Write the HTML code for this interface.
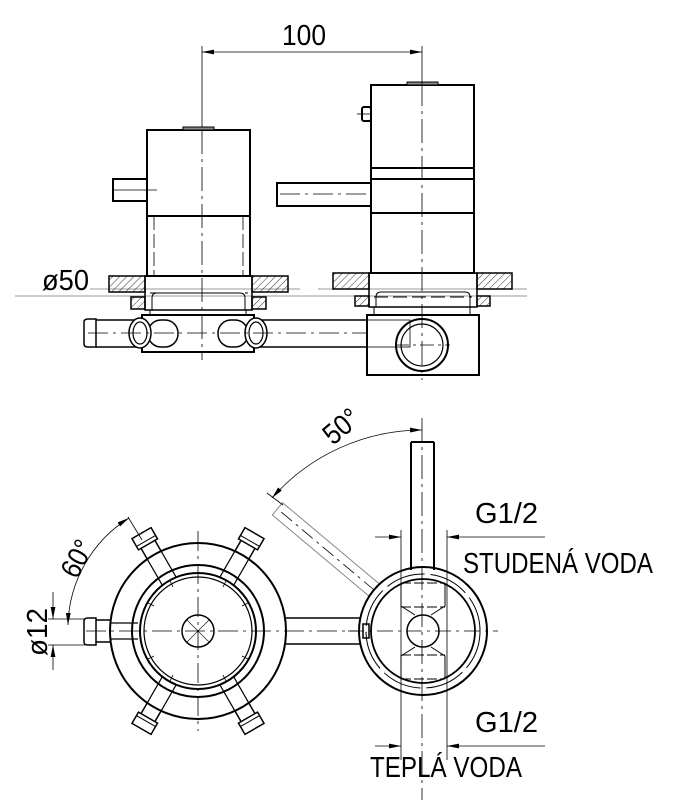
<!DOCTYPE html>
<html><head><meta charset="utf-8"><style>
html,body{margin:0;padding:0;background:#fff}
svg{display:block}
text{font-family:"Liberation Sans",sans-serif;fill:#000}
</style></head><body>
<svg width="675" height="800" viewBox="0 0 675 800" xmlns="http://www.w3.org/2000/svg">
<defs>
<pattern id="h" width="5" height="5" patternUnits="userSpaceOnUse" patternTransform="rotate(45)"><line x1="0" y1="0" x2="0" y2="5" stroke="#000" stroke-width="0.8"/></pattern>
<marker id="a" viewBox="0 0 10 4" refX="10" refY="2" markerWidth="12" markerHeight="5" orient="auto-start-reverse" markerUnits="userSpaceOnUse"><path d="M0,0L10,2L0,4z" fill="#000"/></marker>
</defs>
<g fill="none" stroke="#000">
<!-- dimension 100 -->
<line x1="202" y1="46" x2="202" y2="130" stroke-width="0.8"/>
<line x1="422" y1="46" x2="422" y2="82" stroke-width="0.8"/>
<line x1="202" y1="52" x2="422" y2="52" stroke-width="0.8" marker-start="url(#a)" marker-end="url(#a)"/>
<!-- grey wall lines -->
<line x1="15" y1="296" x2="527" y2="296" stroke="#999" stroke-width="1"/>
<line x1="90" y1="289" x2="300" y2="289" stroke="#999" stroke-width="1"/>
<line x1="318" y1="289" x2="527" y2="289" stroke="#999" stroke-width="1"/>
<!-- left body -->
<g stroke-width="2">
<rect x="147" y="130" width="103" height="146"/>
<line x1="147" y1="216" x2="250" y2="216"/>
<rect x="113" y="179" width="34" height="22"/>
<rect x="183" y="127" width="31" height="3" fill="#888" stroke-width="1"/>
</g>
<line x1="113" y1="190" x2="157" y2="190" stroke-width="0.8"/>
<line x1="154" y1="216" x2="154" y2="276" stroke-width="0.8" stroke-dasharray="14,4"/>
<line x1="243" y1="216" x2="243" y2="276" stroke-width="0.8" stroke-dasharray="14,4"/>
<!-- left flange -->
<rect x="109" y="276" width="36" height="16" fill="url(#h)" stroke-width="1.5"/>
<rect x="252" y="276" width="36" height="16" fill="url(#h)" stroke-width="1.5"/>
<rect x="131" y="297" width="14" height="12" fill="url(#h)" stroke-width="1.5"/>
<rect x="252" y="297" width="14" height="12" fill="url(#h)" stroke-width="1.5"/>
<rect x="145" y="276" width="107" height="34" stroke-width="1.5"/>
<path d="M152,310V298q0,-5 5,-5h83q5,0 5,5V310" stroke-width="1"/>
<line x1="150" y1="293" x2="248" y2="293" stroke-width="1" stroke-dasharray="14,5"/>
<!-- right body -->
<g stroke-width="2">
<rect x="371" y="85" width="103" height="188"/>
<line x1="371" y1="168" x2="474" y2="168"/>
<line x1="371" y1="179" x2="474" y2="179"/>
<line x1="371" y1="213" x2="474" y2="213"/>
<rect x="277" y="183" width="94" height="23"/>
<rect x="362" y="107" width="9" height="14" rx="2"/>
<rect x="407" y="82" width="31" height="3" fill="#888" stroke-width="1"/>
</g>
<line x1="357" y1="114" x2="371" y2="114" stroke-width="0.8"/>
<line x1="280" y1="194" x2="371" y2="194" stroke-width="0.8" stroke-dasharray="20,5,3,5"/>
<rect x="333" y="273" width="36" height="16" fill="url(#h)" stroke-width="1.5"/>
<rect x="477" y="273" width="35" height="16" fill="url(#h)" stroke-width="1.5"/>
<rect x="355" y="296" width="14" height="10" fill="url(#h)" stroke-width="1.5"/>
<rect x="477" y="296" width="13" height="10" fill="url(#h)" stroke-width="1.5"/>
<rect x="369" y="273" width="108" height="34" stroke-width="1.5"/>
<path d="M376,307V297q0,-5 5,-5h84q5,0 5,5V307" stroke-width="1"/>
<line x1="374" y1="297" x2="472" y2="297" stroke-width="1" stroke-dasharray="14,5"/>
<!-- bottom housing & pipe -->
<rect x="142" y="315" width="112" height="37" stroke-width="2"/>
<line x1="150" y1="310" x2="150" y2="315" stroke-width="1"/><line x1="246" y1="310" x2="246" y2="315" stroke-width="1"/>
<rect x="367" y="315" width="112" height="60" stroke-width="2"/>
<line x1="374" y1="307" x2="374" y2="315" stroke-width="1"/><line x1="470" y1="307" x2="470" y2="315" stroke-width="1"/>
<path d="M254,320H367M254,347H367" stroke-width="1.5"/>
<path d="M96,320H142M96,347H142" stroke-width="1.5"/>
<path d="M84,322q0,-3 4,-3h8v28h-8q-4,0 -4,-3z" stroke-width="1.5"/>
<rect x="218" y="320" width="30" height="27" rx="13" stroke-width="1.5"/>
<rect x="148" y="320" width="30" height="27" rx="13" stroke-width="1.5"/>
<ellipse cx="140" cy="333" rx="11" ry="15" stroke-width="1.5" fill="#fff"/>
<ellipse cx="140" cy="333" rx="7" ry="11" stroke-width="1.2"/>
<ellipse cx="256" cy="333" rx="11" ry="15" stroke-width="1.5" fill="#fff"/>
<ellipse cx="256" cy="333" rx="7" ry="11" stroke-width="1.2"/>
<rect x="367" y="320" width="43" height="27" stroke-width="0.8"/>
<circle cx="422" cy="345" r="26" stroke-width="2"/>
<circle cx="422" cy="345" r="21" stroke-width="1.2"/>
<line x1="88" y1="333" x2="367" y2="333" stroke-width="0.8" stroke-dasharray="20,5,3,5"/>
<line x1="395" y1="345" x2="450" y2="345" stroke-width="0.8" stroke-dasharray="14,4,3,4"/>
<line x1="202" y1="130" x2="202" y2="360" stroke-width="0.8" stroke-dasharray="24,5,3,5"/>
<line x1="422" y1="82" x2="422" y2="380" stroke-width="0.8" stroke-dasharray="24,5,3,5"/>

<!-- BOTTOM VIEW left -->
<g transform="translate(198,631)">
<g stroke-width="1.5">
<g transform="rotate(-120)"><rect x="60" y="-8" width="42" height="16" fill="#fff"/><rect x="100" y="-11" width="13" height="22" fill="#fff"/><line x1="104" y1="-11" x2="104" y2="11" stroke-width="1"/></g>
<g transform="rotate(-60)"><rect x="60" y="-8" width="42" height="16" fill="#fff"/><rect x="100" y="-11" width="13" height="22" fill="#fff"/><line x1="104" y1="-11" x2="104" y2="11" stroke-width="1"/></g>
<g transform="rotate(60)"><rect x="60" y="-8" width="42" height="16" fill="#fff"/><rect x="100" y="-11" width="13" height="22" fill="#fff"/><line x1="104" y1="-11" x2="104" y2="11" stroke-width="1"/></g>
<g transform="rotate(120)"><rect x="60" y="-8" width="42" height="16" fill="#fff"/><rect x="100" y="-11" width="13" height="22" fill="#fff"/><line x1="104" y1="-11" x2="104" y2="11" stroke-width="1"/></g>
</g>
<circle r="88" stroke-width="2" fill="#fff"/>
<g stroke-width="1.2">
<path d="M-60,-8L-88,-8M-60,8L-88,8"/>
<g transform="rotate(-120)"><path d="M58,-8H88M58,8H88"/></g>
<g transform="rotate(-60)"><path d="M58,-8H88M58,8H88"/></g>
<g transform="rotate(60)"><path d="M58,-8H88M58,8H88"/></g>
<g transform="rotate(120)"><path d="M58,-8H88M58,8H88"/></g>
</g>
<circle r="66" stroke-width="2"/>
<circle r="58" stroke-width="2"/>
<circle r="54" stroke-width="1.2"/>
<circle r="16" stroke-width="1.5"/>
<path d="M-11,-11L11,11M11,-11L-11,11" stroke-width="0.6"/>
<path d="M-50,-28L-44,-25M50,-28L44,-25M-50,28L-44,25M50,28L44,25M-28,-50L-25,-44M28,-50L25,-44M-28,50L-25,44M28,50L25,44" stroke-width="0.8"/>
<line x1="-112" y1="0" x2="225" y2="0" stroke-width="0.8" stroke-dasharray="20,5,3,5"/>
<line x1="0" y1="-100" x2="0" y2="100" stroke-width="0.8" stroke-dasharray="20,5,3,5"/>
</g>
<path d="M96,620H110M96,642H110" stroke-width="1.5"/>
<path d="M84,621q0,-3 4,-3h8v27h-8q-4,0 -4,-3z" stroke-width="1.5"/>
<path d="M286,618H360M286,644H360" stroke-width="1.5"/>
<!-- 60 deg dim -->
<path d="M68,625 A130,130 0 0 1 129,518" stroke-width="0.8" marker-start="url(#a)" marker-end="url(#a)"/>
<line x1="128" y1="517" x2="142" y2="540" stroke-width="0.8"/>
<!-- ø12 -->
<path d="M48,619H85M48,645H85" stroke-width="0.8"/>
<line x1="53" y1="592" x2="53" y2="619" stroke-width="0.8" marker-end="url(#a)"/>
<line x1="53" y1="670" x2="53" y2="645" stroke-width="0.8" marker-end="url(#a)"/>

<!-- right valve -->
<g transform="translate(423,631)">
<g transform="rotate(-50)" stroke="#888" stroke-width="1"><rect x="-8" y="-190" width="16" height="130" fill="none"/><line x1="0" y1="-185" x2="0" y2="-60" stroke="#000" stroke-width="0.8" stroke-dasharray="14,5,3,5"/></g>
<circle r="64" stroke-width="2" fill="#fff"/>
<circle r="52" stroke-width="1.8"/>
<circle r="57" stroke-width="1" stroke-dasharray="40,6"/>
<circle r="16" stroke-width="1.5"/>
<path d="M-22,-48V-25L-8,-16M22,-48V-25L8,-16M-22,48V25L-8,16M22,48V25L8,16" stroke-width="1"/>
<path d="M-22,-48H22M-22,-24H22M-22,24H22M-22,48H22" stroke-width="1" stroke-dasharray="10,3"/>
<line x1="-75" y1="0" x2="75" y2="0" stroke-width="0.8" stroke-dasharray="16,5,3,5"/>
<rect x="-60" y="-7" width="6" height="14" stroke-width="1.5"/>
</g>
<path d="M411,442V570M434,442V570M411,442H434" stroke-width="2"/>
<line x1="422" y1="418" x2="422" y2="800" stroke-width="0.8" stroke-dasharray="24,5,3,5"/>
<!-- 50 deg dim -->
<path d="M272,498 A201,201 0 0 1 422,430" stroke-width="0.8" marker-start="url(#a)" marker-end="url(#a)"/>
<line x1="267" y1="493" x2="283" y2="505" stroke-width="0.8"/>
<!-- G1/2 dims -->
<path d="M401,530V760M447,530V760" stroke-width="0.8"/>
<line x1="375" y1="537" x2="401" y2="537" stroke-width="0.8" marker-end="url(#a)"/>
<line x1="545" y1="537" x2="447" y2="537" stroke-width="0.8" marker-end="url(#a)"/>
<line x1="375" y1="746" x2="401" y2="746" stroke-width="0.8" marker-end="url(#a)"/>
<line x1="545" y1="746" x2="447" y2="746" stroke-width="0.8" marker-end="url(#a)"/>
</g>
<g font-size="29">
<text x="282" y="45" textLength="44" lengthAdjust="spacingAndGlyphs">100</text>
<text x="42" y="290" textLength="47" lengthAdjust="spacingAndGlyphs">ø50</text>
<text x="475" y="523" textLength="63" lengthAdjust="spacingAndGlyphs">G1/2</text>
<text x="463" y="573" textLength="190" lengthAdjust="spacingAndGlyphs">STUDENÁ VODA</text>
<text x="475" y="732" textLength="63" lengthAdjust="spacingAndGlyphs">G1/2</text>
<text x="370" y="777" textLength="152" lengthAdjust="spacingAndGlyphs">TEPLÁ VODA</text>
<text transform="translate(333,446) rotate(-40)" textLength="38" lengthAdjust="spacingAndGlyphs">50°</text>
<text transform="translate(77,580) rotate(-62)" textLength="38" lengthAdjust="spacingAndGlyphs">60°</text>
<text transform="translate(47,656) rotate(-90)" textLength="48" lengthAdjust="spacingAndGlyphs">ø12</text>
</g>
</svg>
</body></html>
